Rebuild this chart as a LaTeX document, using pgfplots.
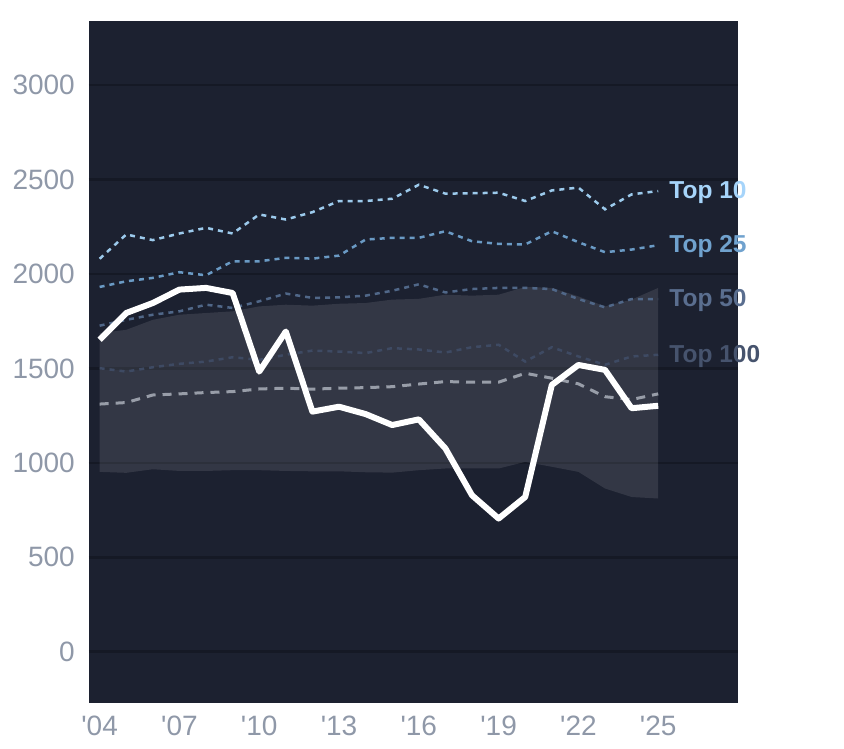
\documentclass[border=0pt]{standalone}
\usepackage{pgfplots}
\pgfplotsset{compat=1.18}
\usepackage{pgfplotstable}
\usepgfplotslibrary{fillbetween}
\usepackage{fontspec}
\setmainfont{Liberation Sans}

\definecolor{bgc}{RGB}{28,33,48}
\definecolor{gridc}{RGB}{21,25,37}
\definecolor{tickc}{RGB}{143,152,168}
\definecolor{c10}{RGB}{156,202,236}
\definecolor{c25}{RGB}{106,154,196}
\definecolor{c50}{RGB}{80,103,136}
\definecolor{c100}{RGB}{62,74,99}
\definecolor{l10}{RGB}{166,212,250}
\definecolor{l25}{RGB}{112,162,206}
\definecolor{l50}{RGB}{90,110,143}
\definecolor{l100}{RGB}{70,83,109}
\definecolor{medc}{RGB}{152,157,168}

\pgfplotstableread{
year main up lo t10 t25 t50 t100 med
2004 1651 1687 952 2080 1931 1726 1501 1311
2005 1793 1704 947 2209 1961 1757 1483 1319
2006 1846 1757 966 2179 1979 1784 1506 1359
2007 1917 1784 957 2214 2009 1802 1524 1365
2008 1926 1793 957 2244 1993 1837 1536 1372
2009 1899 1802 961 2214 2067 1820 1559 1377
2010 1483 1828 961 2315 2067 1855 1545 1391
2011 1695 1837 957 2288 2085 1896 1572 1395
2012 1271 1832 955 2327 2081 1873 1594 1390
2013 1297 1842 955 2386 2097 1876 1589 1395
2014 1258 1846 950 2386 2182 1885 1581 1398
2015 1200 1864 948 2398 2191 1911 1607 1403
2016 1230 1868 961 2472 2191 1945 1600 1417
2017 1076 1890 970 2425 2226 1902 1584 1430
2018 828 1885 970 2427 2173 1920 1612 1427
2019 705 1890 970 2430 2159 1926 1625 1427
2020 819 1931 1005 2386 2156 1926 1536 1474
2021 1412 1926 979 2442 2226 1920 1612 1448
2022 1518 1881 952 2457 2168 1867 1563 1418
2023 1492 1828 864 2342 2115 1823 1519 1350
2024 1289 1864 819 2421 2129 1867 1563 1335
2025 1302 1926 811 2439 2152 1867 1572 1365
}\data

\begin{document}
\begin{tikzpicture}
\begin{axis}[
  scale only axis,
  width=649pt, height=681.7pt,
  xmin=2003.6, xmax=2028,
  ymin=-270, ymax=3339,
  axis background/.style={fill=bgc},
  axis line style={draw=none},
  major tick length=0pt,
  ymajorgrids,
  grid style={line width=2.5pt, color=gridc},
  ytick={0,500,...,3000},
  xtick={2004,2007,2010,2013,2016,2019,2022,2025},
  xticklabels={\textquotesingle04,\textquotesingle07,\textquotesingle10,\textquotesingle13,\textquotesingle16,\textquotesingle19,\textquotesingle22,\textquotesingle25},
  tick label style={font=\fontsize{28}{34}\selectfont, text=tickc},
  /pgf/number format/assume math mode=true,
  /pgf/number format/1000 sep={},
  yticklabel style={inner sep=0pt, xshift=-14pt},
  xticklabel style={inner sep=0pt, yshift=-13pt},
  clip=false,
]
\addplot[draw=none, name path=up] table[x=year,y=up] {\data};
\addplot[draw=none, name path=lo] table[x=year,y=lo] {\data};
\addplot[fill=white, fill opacity=0.1, draw=none] fill between[of=up and lo];

\addplot[c100, line width=2.5pt, dash pattern=on 5pt off 5pt] table[x=year,y=t100] {\data};
\addplot[c50, line width=2.5pt, dash pattern=on 5pt off 5pt] table[x=year,y=t50] {\data};
\addplot[c25, line width=2.5pt, dash pattern=on 5pt off 5pt] table[x=year,y=t25] {\data};
\addplot[c10, line width=2.5pt, dash pattern=on 5pt off 5pt] table[x=year,y=t10] {\data};
\addplot[medc, line width=3pt, dash pattern=on 9pt off 7pt] table[x=year,y=med] {\data};
\addplot[white, line width=6pt, line join=round] table[x=year,y=main] {\data};

\node[anchor=west, inner sep=0pt, xshift=11pt, yshift=-1.5pt, text=l10, font=\bfseries\fontsize{24.5}{28}\selectfont] at (axis cs:2025,2439) {Top 10};
\node[anchor=west, inner sep=0pt, xshift=11pt, yshift=-1.5pt, text=l25, font=\bfseries\fontsize{24.5}{28}\selectfont] at (axis cs:2025,2152) {Top 25};
\node[anchor=west, inner sep=0pt, xshift=11pt, yshift=-1.5pt, text=l50, font=\bfseries\fontsize{24.5}{28}\selectfont] at (axis cs:2025,1867) {Top 50};
\node[anchor=west, inner sep=0pt, xshift=11pt, yshift=-1.5pt, text=l100, font=\bfseries\fontsize{24.5}{28}\selectfont] at (axis cs:2025,1572) {Top 100};
\end{axis}
\pgfresetboundingbox
\path[use as bounding box] (-89pt,-45.3pt) rectangle (755pt,702.7pt);
\end{tikzpicture}
\end{document}
